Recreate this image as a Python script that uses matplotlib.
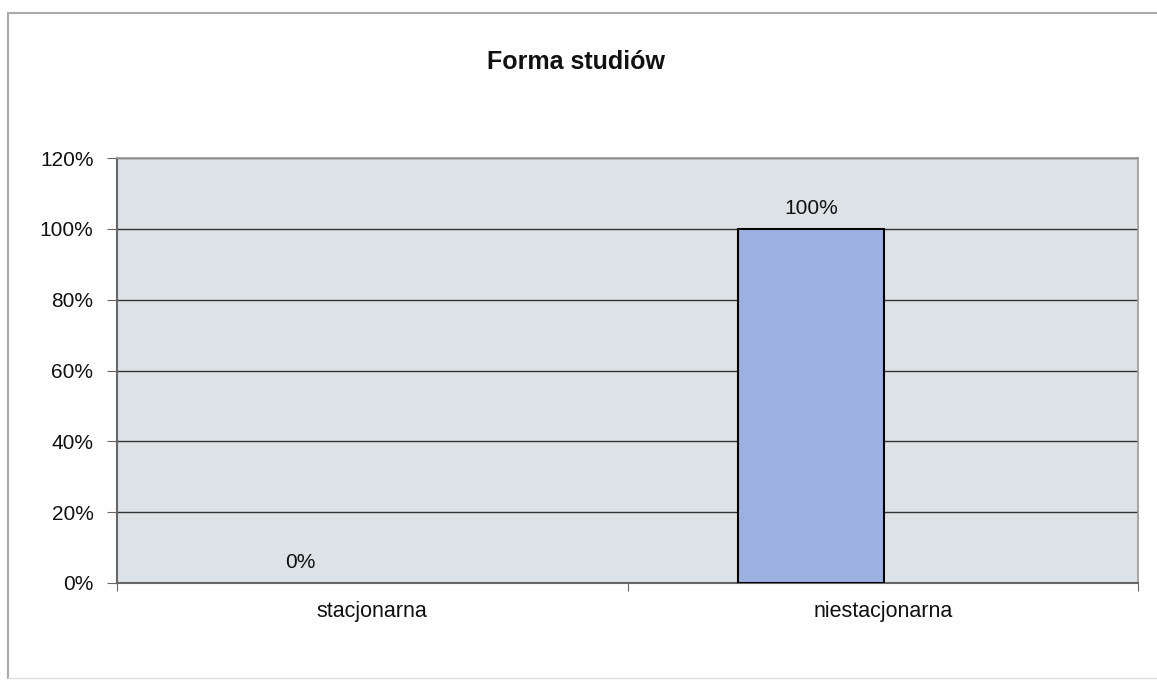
import matplotlib
matplotlib.use("Agg")
import matplotlib.pyplot as plt
from matplotlib.lines import Line2D

categories = ["stacjonarna", "niestacjonarna"]
values = [0, 100]
value_labels = ["0%", "100%"]
yticks = [0, 20, 40, 60, 80, 100, 120]
ytick_labels = ["0%", "20%", "40%", "60%", "80%", "100%", "120%"]
title = "Forma studiów"

plt.rcParams['font.family'] = ['Liberation Sans', 'DejaVu Sans']

W, H = 1157, 681
fig = plt.figure(figsize=(W / 100, H / 100), dpi=100)
fig.patch.set_facecolor("white")

L, R, T, B = 117, 1138, 158, 583
ax = fig.add_axes([L / W, 1 - B / H, (R - L) / W, (B - T) / H])
ax.set_facecolor("#dde2e6")

x = list(range(len(categories)))
offset = -0.141
width = 0.286
xs = [xi + offset for xi in x]
lws = [1.5 if v > 0 else 0 for v in values]
ax.bar(xs, values, width=width, color="#9cb1e2", edgecolor="black", linewidth=lws, zorder=3)
for xi, v, lab in zip(xs, values, value_labels):
    ax.annotate(lab, (xi, v), xytext=(0, 15), textcoords="offset points",
                ha="center", va="center", fontsize=15, color="#111111")

ax.set_ylim(0, 120)
ax.set_xlim(-0.5, len(categories) - 0.5)
ax.set_yticks(yticks)
ax.set_yticklabels(ytick_labels, fontsize=15, color="#111111")
ax.yaxis.grid(True, color="#333333", linewidth=1.0, zorder=1)
ax.set_axisbelow(True)

ax.set_xticks([i - 0.5 for i in range(len(categories) + 1)])
ax.set_xticklabels([])
ax.set_xticks(x, minor=True)
ax.set_xticklabels(categories, minor=True, fontsize=15.5, color="#111111")
ax.tick_params(axis="x", which="minor", length=0, pad=13)
ax.tick_params(axis="x", which="major", length=6, color="#666666", direction="out")
ax.tick_params(axis="y", length=7, color="#666666", direction="out", pad=10)

for s in ["left", "bottom"]:
    ax.spines[s].set_color("#666666")
    ax.spines[s].set_linewidth(1.5)
for s in ["top", "right"]:
    ax.spines[s].set_color("#999999")
    ax.spines[s].set_linewidth(1.2)

fig.text(576 / W, 1 - 62 / H, title, ha="center", va="center",
         fontsize=18, fontweight="bold", color="#111111")

# outer chart border
bx0, by0, by1 = 8, 13, 678
fig.add_artist(Line2D([bx0 / W, bx0 / W], [1 - by0 / H, 1 - by1 / H],
                      transform=fig.transFigure, color="#aaaaaa", linewidth=1.5))
fig.add_artist(Line2D([bx0 / W, 1.0], [1 - by0 / H, 1 - by0 / H],
                      transform=fig.transFigure, color="#aaaaaa", linewidth=1.5))
fig.add_artist(Line2D([bx0 / W, 1.0], [1 - by1 / H, 1 - by1 / H],
                      transform=fig.transFigure, color="#dddddd", linewidth=1.0))

fig.savefig("out.png", dpi=100, facecolor="white")
